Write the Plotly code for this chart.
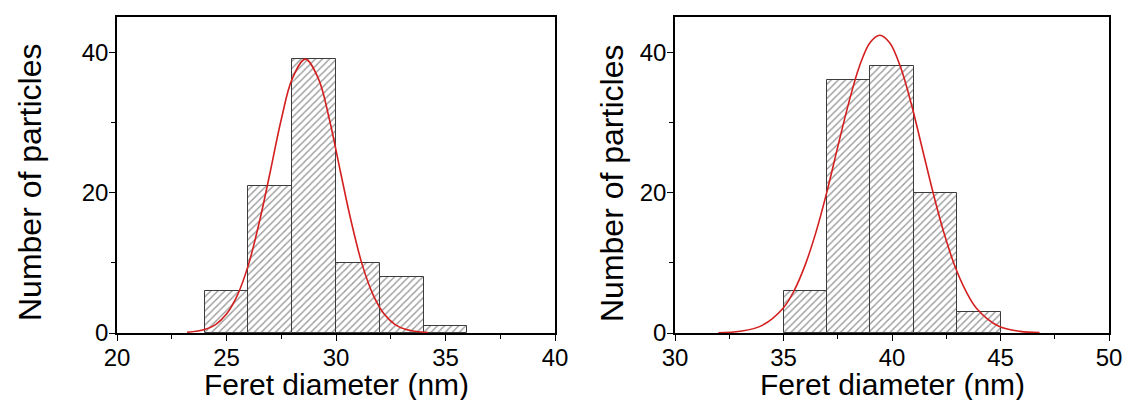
import plotly.graph_objects as go

# ---------------- data ----------------
# Left panel histogram (bin centres, bin width 2 nm)
left_bin_centers = [25, 27, 29, 31, 33, 35]
left_counts = [6, 21, 39, 10, 8, 1]
# Left panel fitted curve
left_fit_x = [23.2, 24.0, 24.5, 25.0, 25.5, 26.0, 26.5, 27.0, 27.5, 28.0, 28.6,
              29.2, 29.7, 30.2, 30.7, 31.2, 31.7, 32.2, 32.7, 33.2, 34.2]
left_fit_y = [0.1, 0.5, 1.2, 2.7, 5.4, 9.7, 15.8, 23.0, 30.4, 36.2, 39.0,
              36.2, 30.4, 23.0, 15.8, 9.7, 5.4, 2.7, 1.2, 0.5, 0.05]

# Right panel histogram
right_bin_centers = [36, 38, 40, 42, 44]
right_counts = [6, 36, 38, 20, 3]
# Right panel fitted curve
right_fit_x = [32.0, 33.0, 34.0, 35.0, 35.5, 36.0, 36.5, 37.0, 37.5, 38.0, 38.5, 39.0,
               39.44, 39.9, 40.4, 40.9, 41.4, 41.9, 42.4, 42.9, 43.4, 43.9, 44.9, 45.9, 46.8]
right_fit_y = [0.04, 0.24, 1.05, 3.6, 6.1, 9.7, 14.4, 20.1, 26.5, 32.7, 38.0, 41.4,
               42.4, 41.3, 37.8, 32.5, 26.2, 19.9, 14.2, 9.5, 6.0, 3.5, 1.0, 0.23, 0.05]

bin_width = 2
x_title = "Feret diameter (nm)"
y_title = "Number of particles"
left_xticks = [20, 25, 30, 35, 40]
right_xticks = [30, 35, 40, 45, 50]
y_ticks = [0, 20, 40]

# ---------------- figure ----------------
W, H = 1127, 400
FONT = "Arial, 'Liberation Sans', sans-serif"
fig = go.Figure()

bar_style = dict(
    width=bin_width,
    marker=dict(
        color="white",
        line=dict(color="#3c3c3c", width=1),
        pattern=dict(shape="/", fgcolor="#333333", bgcolor="white", size=5, solidity=0.28),
    ),
    showlegend=False,
    hoverinfo="skip",
)
fig.add_trace(go.Bar(x=left_bin_centers, y=left_counts, xaxis="x", yaxis="y", **bar_style))
fig.add_trace(go.Bar(x=right_bin_centers, y=right_counts, xaxis="x2", yaxis="y2", **bar_style))

line_style = dict(mode="lines", line=dict(color="#d41f1f", width=1.6, shape="spline"),
                  showlegend=False, hoverinfo="skip")
fig.add_trace(go.Scatter(x=left_fit_x, y=left_fit_y, xaxis="x", yaxis="y", **line_style))
fig.add_trace(go.Scatter(x=right_fit_x, y=right_fit_y, xaxis="x2", yaxis="y2", **line_style))

left_dom = [117 / W, 555 / W]
right_dom = [675 / W, 1109 / W]
y_dom = [(H - 333) / H, (H - 17) / H]

def xaxis(dom, rng, ticks, anchor):
    return dict(
        domain=dom, range=rng, anchor=anchor, automargin=False,
        tickvals=ticks, ticktext=[str(t) for t in ticks],
        ticks="outside", ticklen=6, tickwidth=1.2, tickcolor="black",
        ticklabelstandoff=-4,
        minor=dict(dtick=2.5, ticks="outside", ticklen=4, tickwidth=1.2, tickcolor="black"),
        showline=True, linecolor="black", linewidth=1.5, mirror=True,
        showgrid=False, zeroline=False,
        tickfont=dict(family=FONT, size=24, color="black"),
    )

def yaxis(anchor):
    return dict(
        domain=y_dom, range=[0, 45], anchor=anchor, automargin=False,
        tickvals=y_ticks, ticktext=[str(t) for t in y_ticks],
        ticks="outside", ticklen=6, tickwidth=1.2, tickcolor="black",
        ticklabelstandoff=-4,
        minor=dict(dtick=10, ticks="outside", ticklen=4, tickwidth=1.2, tickcolor="black"),
        showline=True, linecolor="black", linewidth=1.5, mirror=True,
        showgrid=False, zeroline=False,
        tickfont=dict(family=FONT, size=24, color="black"),
    )

fig.update_layout(
    width=W, height=H,
    margin=dict(l=0, r=0, t=0, b=0, autoexpand=False),
    paper_bgcolor="white", plot_bgcolor="white",
    bargap=0,
    barmode="overlay",
    xaxis=xaxis(left_dom, [20, 40], left_xticks, "y"),
    yaxis=yaxis("x"),
    xaxis2=xaxis(right_dom, [30, 50], right_xticks, "y2"),
    yaxis2=yaxis("x2"),
)

annotations = []
for dom in (left_dom, right_dom):
    annotations.append(dict(
        text=x_title, xref="paper", yref="paper",
        x=(dom[0] + dom[1]) / 2, y=(H - 384) / H,
        xanchor="center", yanchor="middle", showarrow=False,
        font=dict(family=FONT, size=30, color="black"),
    ))
for xc in (30, 612):
    annotations.append(dict(
        text=y_title, xref="paper", yref="paper",
        x=xc / W, y=(H - 183) / H, textangle=-90,
        xanchor="center", yanchor="middle", showarrow=False,
        font=dict(family=FONT, size=32, color="black"),
    ))
fig.update_layout(annotations=annotations)

fig.write_html(
    "out.html",
    config={"displayModeBar": False},
    post_script="document.body.style.margin='0';document.body.style.overflow='hidden';",
)
